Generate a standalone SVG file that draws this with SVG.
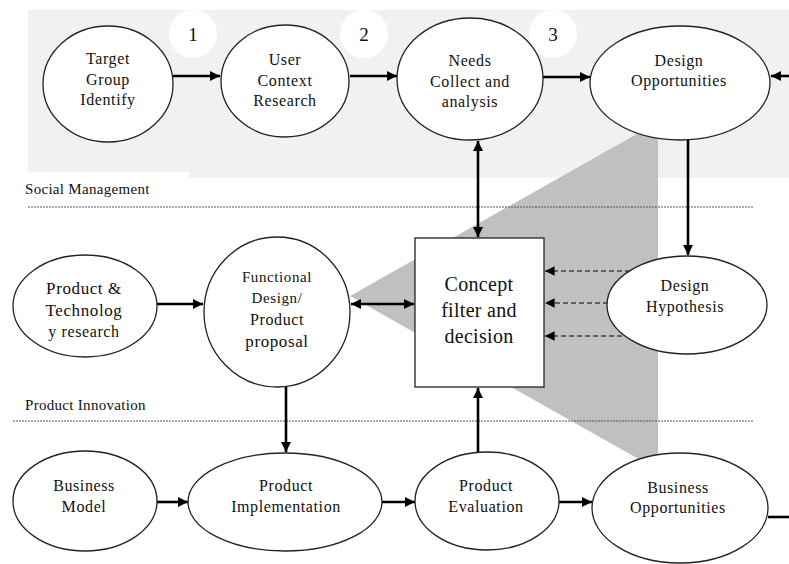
<svg xmlns="http://www.w3.org/2000/svg" width="789" height="564" viewBox="0 0 789 564">
  <style>
    .node { fill: #fff; stroke: #222; stroke-width: 1.3; }
    .lbl { font-family: 'Liberation Serif', 'DejaVu Serif', serif; font-size: 16px; letter-spacing: 0.6px; fill: #111; text-anchor: middle; }
    .big { font-size: 20px; letter-spacing: 0.3px; }
    .sec { font-family: 'Liberation Serif', 'DejaVu Serif', serif; font-size: 15px; letter-spacing: 0.3px; fill: #111; }
    .num { font-family: 'Liberation Serif', 'DejaVu Serif', serif; font-size: 19px; fill: #111; text-anchor: middle; }
    .conn { stroke: #000; stroke-width: 2.6; fill: none; }
    .dash { stroke: #000; stroke-width: 1.2; stroke-dasharray: 5 3; fill: none; }
    .divider { stroke: #555; stroke-width: 1; stroke-dasharray: 2 1; }
  </style>
  <defs>
    <marker id="ah" viewBox="0 0 10 10" refX="10" refY="5" markerWidth="4" markerHeight="4" orient="auto-start-reverse" markerUnits="strokeWidth">
      <path d="M0,0 L10,5 L0,10 z" fill="#000"/>
    </marker>
    <marker id="ahs" viewBox="0 0 10 10" refX="10" refY="5" markerWidth="8" markerHeight="8" orient="auto" markerUnits="strokeWidth">
      <path d="M0,0 L10,5 L0,10 z" fill="#000"/>
    </marker>
  </defs>

  <rect width="789" height="564" fill="#fff"/>

  <!-- social management band -->
  <path d="M28,10 H789 V178 H189 V172 H28 Z" fill="#f1f1f1"/>
  <!-- step markers -->
  <g id="steps">
    <circle cx="193" cy="34" r="24" fill="#fff"/>
    <circle cx="364" cy="34" r="24" fill="#fff"/>
    <circle cx="553" cy="34" r="24" fill="#fff"/>
    <text class="num" x="193" y="41">1</text>
    <text class="num" x="364" y="41">2</text>
    <text class="num" x="553" y="41">3</text>
  </g>

  <!-- decision wedge -->
  <polygon points="350,296 658,122 658,470" fill="#c0c0c0"/>

  <!-- section dividers -->
  <line class="divider" x1="28" y1="207" x2="753" y2="207"/>
  <line class="divider" x1="13" y1="421" x2="753" y2="421"/>
  <text class="sec" x="25" y="194">Social Management</text>
  <text class="sec" x="25" y="410">Product Innovation</text>

  <!-- connectors -->
  <g id="connectors">
    <line class="conn" x1="173" y1="76" x2="220" y2="76" marker-end="url(#ah)"/>
    <line class="conn" x1="350" y1="76" x2="397" y2="76" marker-end="url(#ah)"/>
    <line class="conn" x1="543" y1="77" x2="590" y2="77" marker-end="url(#ah)"/>
    <line class="conn" x1="789" y1="76" x2="771" y2="76" marker-end="url(#ah)"/>
    <line class="conn" x1="478" y1="141" x2="478" y2="237" marker-start="url(#ah)" marker-end="url(#ah)"/>
    <line class="conn" x1="688" y1="140" x2="688" y2="255" marker-end="url(#ah)"/>
    <line class="dash" x1="630" y1="271" x2="545" y2="271" marker-end="url(#ahs)"/>
    <line class="dash" x1="608" y1="303" x2="545" y2="303" marker-end="url(#ahs)"/>
    <line class="dash" x1="630" y1="336" x2="545" y2="336" marker-end="url(#ahs)"/>
    <line class="conn" x1="157" y1="304" x2="203" y2="304" marker-end="url(#ah)"/>
    <line class="conn" x1="351" y1="304" x2="414" y2="304" marker-start="url(#ah)" marker-end="url(#ah)"/>
    <line class="conn" x1="286" y1="387" x2="286" y2="452" marker-end="url(#ah)"/>
    <line class="conn" x1="157" y1="502" x2="188" y2="502" marker-end="url(#ah)"/>
    <line class="conn" x1="382" y1="502" x2="415" y2="502" marker-end="url(#ah)"/>
    <line class="conn" x1="478" y1="453" x2="478" y2="388" marker-end="url(#ah)"/>
    <line class="conn" x1="558" y1="502" x2="592" y2="502" marker-end="url(#ah)"/>
    <line class="conn" x1="768" y1="517" x2="789" y2="517"/>
  </g>

  <g id="target-group">
    <ellipse class="node" cx="108" cy="84" rx="65" ry="58"/>
    <text class="lbl" x="108" y="64">Target</text>
    <text class="lbl" x="108" y="85">Group</text>
    <text class="lbl" x="108" y="105">Identify</text>
  </g>
  <g id="user-context">
    <ellipse class="node" cx="285" cy="81" rx="64" ry="56"/>
    <text class="lbl" x="285" y="65">User</text>
    <text class="lbl" x="285" y="86">Context</text>
    <text class="lbl" x="285" y="106">Research</text>
  </g>
  <g id="needs">
    <ellipse class="node" cx="470" cy="79" rx="73" ry="61"/>
    <text class="lbl" x="470" y="66">Needs</text>
    <text class="lbl" x="470" y="87">Collect and</text>
    <text class="lbl" x="470" y="107">analysis</text>
  </g>
  <g id="design-opportunities">
    <ellipse class="node" cx="680" cy="83" rx="90" ry="57"/>
    <text class="lbl" x="679" y="66">Design</text>
    <text class="lbl" x="679" y="86">Opportunities</text>
  </g>
  <g id="concept-filter">
    <rect class="node" x="415" y="238" width="129" height="149"/>
    <text class="lbl big" x="479" y="291">Concept</text>
    <text class="lbl big" x="479" y="317">filter and</text>
    <text class="lbl big" x="479" y="343">decision</text>
  </g>
  <g id="design-hypothesis">
    <ellipse class="node" cx="687" cy="305" rx="80" ry="49"/>
    <text class="lbl" x="685" y="291">Design</text>
    <text class="lbl" x="685" y="312">Hypothesis</text>
  </g>
  <g id="product-technology">
    <ellipse class="node" cx="85" cy="306" rx="72" ry="51"/>
    <text class="lbl" x="84" y="294" style="font-size:17px">Product &amp;</text>
    <text class="lbl" x="84" y="316" style="font-size:17px">Technolog</text>
    <text class="lbl" x="84" y="337" style="font-size:16px">y research</text>
  </g>
  <g id="functional-design">
    <ellipse class="node" cx="277" cy="312" rx="73" ry="75"/>
    <text class="lbl" x="277" y="282" style="font-size:15px">Functional</text>
    <text class="lbl" x="277" y="303" style="font-size:15px">Design/</text>
    <text class="lbl" x="277" y="325">Product</text>
    <text class="lbl" x="277" y="347" style="font-size:17px">proposal</text>
  </g>
  <g id="business-model">
    <ellipse class="node" cx="85" cy="501" rx="72" ry="50"/>
    <text class="lbl" x="84" y="491">Business</text>
    <text class="lbl" x="84" y="512">Model</text>
  </g>
  <g id="product-implementation">
    <ellipse class="node" cx="285" cy="502" rx="97" ry="49"/>
    <text class="lbl" x="286" y="491">Product</text>
    <text class="lbl" x="286" y="512">Implementation</text>
  </g>
  <g id="product-evaluation">
    <ellipse class="node" cx="487" cy="501" rx="72" ry="49"/>
    <text class="lbl" x="486" y="491">Product</text>
    <text class="lbl" x="486" y="512">Evaluation</text>
  </g>
  <g id="business-opportunities">
    <ellipse class="node" cx="680" cy="508" rx="88" ry="55"/>
    <text class="lbl" x="678" y="493">Business</text>
    <text class="lbl" x="678" y="513">Opportunities</text>
  </g>
</svg>
